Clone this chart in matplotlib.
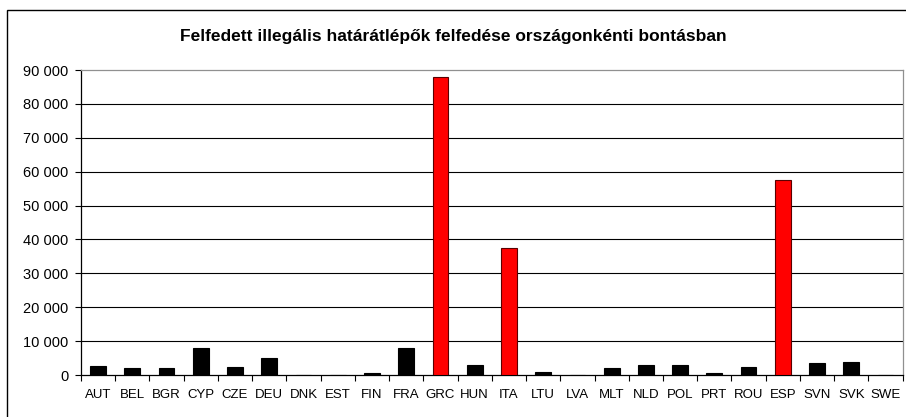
import matplotlib
matplotlib.use("Agg")
import matplotlib.pyplot as plt
from matplotlib.patches import Rectangle
from matplotlib.ticker import FuncFormatter, FixedLocator
import numpy as np

plt.rcParams['font.family'] = ['Liberation Sans', 'DejaVu Sans']

title = "Felfedett illegális határátlépők felfedése országonkénti bontásban"
countries = ["AUT", "BEL", "BGR", "CYP", "CZE", "DEU", "DNK", "EST", "FIN", "FRA",
             "GRC", "HUN", "ITA", "LTU", "LVA", "MLT", "NLD", "POL", "PRT", "ROU",
             "ESP", "SVN", "SVK", "SWE"]
values = [2600, 2000, 2000, 8100, 2250, 4900, 0, 0, 500, 8100,
          87800, 3050, 37600, 800, 0, 2000, 3050, 3050, 500, 2250,
          57500, 3450, 3700, 0]
highlight = ["GRC", "ITA", "ESP"]

fig = plt.figure(figsize=(9.06, 4.17), dpi=100)
ax = fig.add_axes([0.0894, 0.1007, 0.9069, 0.7314])

x = np.arange(len(countries))
colors = ["#ff0000" if c in highlight else "#000000" for c in countries]
edges = ["#5a0000" if c in highlight else "#000000" for c in countries]
ax.bar(x, values, width=0.46, color=colors, edgecolor=edges, linewidth=0.8, zorder=3)

ax.set_xlim(-0.5, len(countries) - 0.5)
ax.set_ylim(0, 90000)
yt = np.arange(0, 90001, 10000)
ax.set_yticks(yt)
ax.yaxis.set_major_formatter(FuncFormatter(lambda v, p: f"{int(v):,}".replace(",", " ")))
for v in yt[1:-1]:
    ax.axhline(v, color="#000000", linewidth=0.8, zorder=1)

ax.set_xticks(x)
ax.set_xticklabels(countries)
ax.xaxis.set_minor_locator(FixedLocator(np.arange(-0.5, len(countries), 1.0)))
ax.tick_params(axis="x", which="major", length=0, pad=10, labelsize=9.5)
ax.tick_params(axis="x", which="minor", length=4, width=0.8, direction="out")
ax.tick_params(axis="y", length=4, width=0.8, direction="out", pad=5, labelsize=10.5)

ax.spines["top"].set_color("#909090")
ax.spines["right"].set_color("#909090")
ax.spines["left"].set_color("#000000")
ax.spines["bottom"].set_color("#000000")
for s in ax.spines.values():
    s.set_linewidth(0.9)

fig.text(0.5, 0.913, title, ha="center", va="center", fontsize=12.5, fontweight="bold")

frame = Rectangle((7 / 906, -0.05), 1.0, 1.05 - 10 / 417,
                  transform=fig.transFigure, fill=False, edgecolor="#000000",
                  linewidth=1.0)
fig.patches.append(frame)

fig.savefig("out.png", dpi=100)
